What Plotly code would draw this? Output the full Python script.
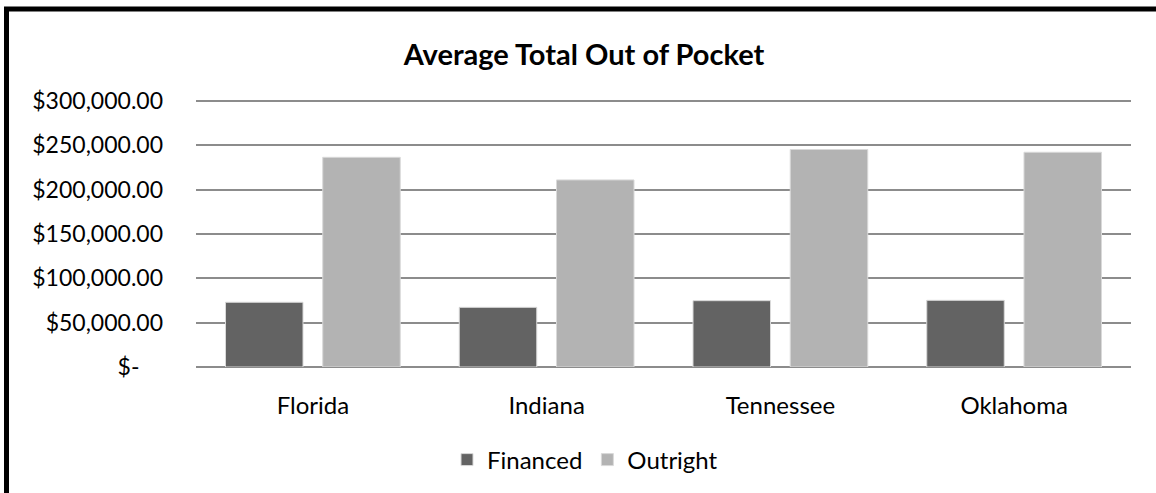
import plotly.graph_objects as go

categories = ["Florida", "Indiana", "Tennessee", "Oklahoma"]
financed = [73000, 67300, 74800, 75200]
outright = [236500, 211000, 245300, 242200]
tick_vals = [0, 50000, 100000, 150000, 200000, 250000, 300000]
tick_text = ["$-\u00a0\u00a0\u00a0\u00a0", "$50,000.00", "$100,000.00", "$150,000.00",
             "$200,000.00", "$250,000.00", "$300,000.00"]

W, H = 1156, 493
# screen pixel positions of plot area (top slightly above the 300k gridline so it is drawn)
SL, SR, ST, SB = 196, 1131, 99, 367
Y_MAX = 302250
L, T = SL, ST
R = W - SR
B = H - SB
pw, ph = SR - SL, SB - ST

def px_x(x):
    return (x - SL) / pw

def px_y(y):
    return (SB - y) / ph

FONT = "Lato"

fig = go.Figure()
fig.add_trace(go.Bar(name="Financed", x=categories, y=financed,
                     marker=dict(color="#636363", line=dict(color="#d9d9d9", width=1))))
fig.add_trace(go.Bar(name="Outright", x=categories, y=outright,
                     marker=dict(color="#b3b3b3", line=dict(color="#d9d9d9", width=1))))

fig.update_layout(
    width=W, height=H,
    margin=dict(l=L, r=R, t=T, b=B, autoexpand=False),
    paper_bgcolor="white", plot_bgcolor="white",
    barmode="group", bargap=0.168, bargroupgap=0.203,
    font=dict(family=FONT, size=23, color="black"),
    title=dict(text="<b>Average Total Out of Pocket</b>", x=px_x(584), xref="paper",
               xanchor="center", y=1 - 55 / H, yanchor="middle",
               font=dict(family=FONT, size=29, color="black")),
    showlegend=True,
    legend=dict(orientation="h", x=px_x(585), xanchor="center", y=px_y(460), yanchor="middle",
                font=dict(family=FONT, size=24), itemwidth=30, traceorder="normal",
                bgcolor="rgba(0,0,0,0)"),
    xaxis=dict(showgrid=False, showline=False, ticks="", ticklabelstandoff=22,
               tickfont=dict(family=FONT, size=24)),
    yaxis=dict(range=[0, Y_MAX], tickvals=tick_vals, ticktext=tick_text,
               showgrid=True, gridcolor="#8c8c8c", gridwidth=2,
               zeroline=True, zerolinecolor="#8c8c8c", zerolinewidth=2,
               showline=False, ticks="", ticklabelstandoff=32,
               tickfont=dict(family=FONT, size=23)),
    shapes=[dict(type="rect", xref="paper", yref="paper",
                 x0=px_x(6.5), x1=px_x(1300), y0=px_y(650), y1=px_y(9),
                 line=dict(color="black", width=5), fillcolor="rgba(0,0,0,0)", layer="above")],
)

fig.write_html("out.html", config={"displayModeBar": False},
               post_script="document.body.style.margin='0';")
